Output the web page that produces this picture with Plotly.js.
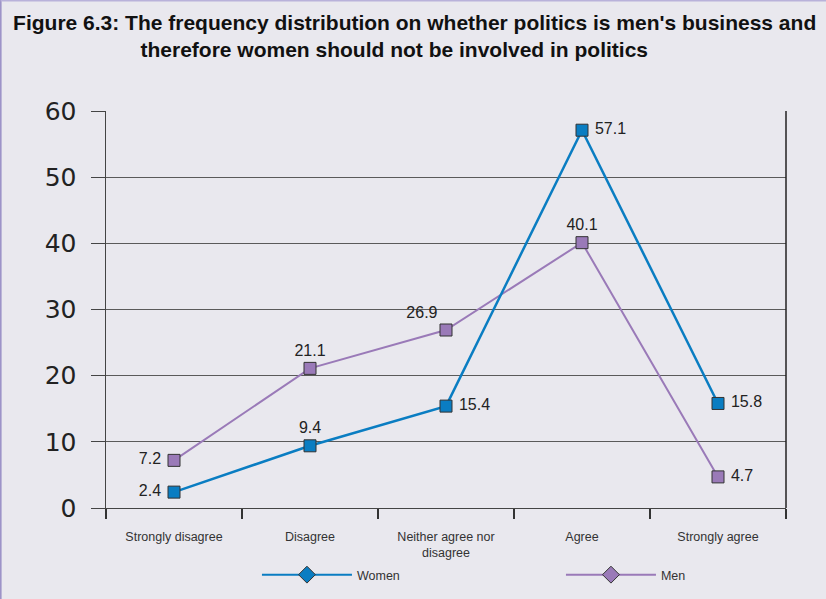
<!DOCTYPE html>
<html>
<head>
<meta charset="utf-8">
<script src="https://cdn.plot.ly/plotly-3.0.1.min.js"></script>
<style>html,body{margin:0;padding:0;background:#e9e8ee;}#chart{width:826px;height:599px;}</style>
</head>
<body>
<div id="chart"></div>
<script>
const categories = ["Strongly disagree", "Disagree", "Neither agree nor<br>disagree", "Agree", "Strongly agree"];
const women = [2.4, 9.4, 15.4, 57.1, 15.8];
const men = [7.2, 21.1, 26.9, 40.1, 4.7];
const womenLabelPos = ["middle left", "top center", "middle right", "middle right", "middle right"];
const menLabelPos = ["middle left", "top center", "top left", "top center", "middle right"];
const yTicks = [0, 10, 20, 30, 40, 50, 60];

const sans = "Liberation Sans, Arial, sans-serif";
const blue = "#0a7dc2", purple = "#9a7ab8";

function labels(vals, pos) {
  return vals.map((v, i) => {
    const s = v.toFixed(1);
    if (pos[i] === "middle right") return "\u00a0" + s;
    if (pos[i] === "middle left") return s + "\u00a0";
    return s;
  });
}

const traces = [
  {x: categories, y: men, type: "scatter", mode: "lines+markers+text", name: "Men", showlegend: false,
   line: {color: purple, width: 2}, marker: {symbol: "square", size: 12, color: purple, line: {color: "#333", width: 1}},
   text: labels(men, menLabelPos), textposition: menLabelPos, textfont: {family: sans, size: 16, color: "#222"}, cliponaxis: false},
  {x: categories, y: women, type: "scatter", mode: "lines+markers+text", name: "Women", showlegend: false,
   line: {color: blue, width: 2.5}, marker: {symbol: "square", size: 12, color: blue, line: {color: "#333", width: 1}},
   text: labels(women, womenLabelPos), textposition: womenLabelPos, textfont: {family: sans, size: 16, color: "#222"}, cliponaxis: false},
  {x: [null], y: [null], type: "scatter", mode: "lines+markers", name: "Women", showlegend: true,
   line: {color: blue, width: 2}, marker: {symbol: "diamond", size: 13, color: blue, line: {color: "#333", width: 1}}},
  {x: [null], y: [null], type: "scatter", mode: "lines+markers", name: "Men", showlegend: true,
   line: {color: purple, width: 2}, marker: {symbol: "diamond", size: 13, color: purple, line: {color: "#333", width: 1}}}
];

const layout = {
  width: 826, height: 599,
  paper_bgcolor: "#e9e8ee", plot_bgcolor: "#e9e8ee",
  margin: {l: 106, r: 40, t: 111, b: 91, autoexpand: false},
  title: {text: "<b>Figure 6.3: The frequency distribution on whether politics is men's business and<br>therefore women should not be involved in politics&nbsp;&nbsp;&nbsp;&nbsp;&nbsp;&nbsp;&nbsp;</b>",
          font: {family: sans, size: 21, color: "#111"}, x: 0.502, xanchor: "center", yref: "container", y: 0.95, yanchor: "top"},
  xaxis: {type: "category", categoryorder: "array", categoryarray: categories, range: [-0.5, 4.5],
          showline: true, linecolor: "#444", linewidth: 1, mirror: false,
          ticks: "outside", tickson: "boundaries", ticklen: 10, tickcolor: "#333", tickwidth: 1.5,
          tickfont: {family: sans, size: 12.5, color: "#333"}, ticklabelstandoff: 17,
          showgrid: false, zeroline: false},
  yaxis: {range: [0, 60], tickvals: yTicks, ticktext: yTicks.map(String),
          showline: true, linecolor: "#444", linewidth: 1.5,
          ticks: "outside", ticklen: 14, tickcolor: "#444", tickwidth: 1,
          tickfont: {family: "DejaVu Sans, sans-serif", size: 25, color: "#222"},
          showgrid: true, gridcolor: "#5a5a5a", gridwidth: 1, zeroline: false, ticklabelstandoff: 9},
  legend: {orientation: "h", x: 0.222, xanchor: "left", yref: "container", y: 0.04, yanchor: "middle",
           font: {family: sans, size: 12.5, color: "#333"}, itemwidth: 90, entrywidth: 199, entrywidthmode: "pixels",
           bgcolor: "rgba(0,0,0,0)", traceorder: "normal"},
  shapes: [
    {type: "line", xref: "paper", yref: "paper", x0: 1, x1: 1, y0: 0, y1: 1, line: {color: "#222", width: 1.5}},
    {type: "line", xref: "paper", yref: "paper", x0: -0.155, x1: -0.155, y0: -0.3, y1: 1.3, line: {color: "#9d93c8", width: 2}},
    {type: "line", xref: "paper", yref: "paper", x0: -0.155, x1: 1.06, y0: 1.278, y1: 1.278, line: {color: "#b9b2da", width: 1.5}}
  ],
  showlegend: true
};

Plotly.newPlot("chart", traces, layout, {displayModeBar: false, staticPlot: true});
</script>
</body>
</html>
